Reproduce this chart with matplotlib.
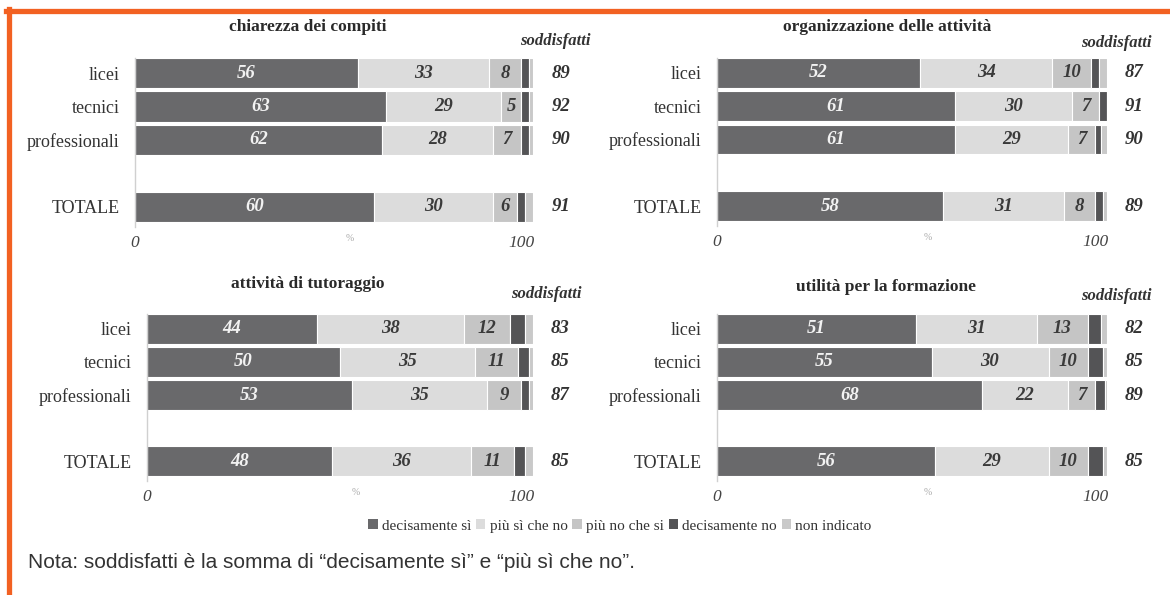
import matplotlib.pyplot as plt
from matplotlib.lines import Line2D
from matplotlib.patches import Patch

plt.rcParams['font.family'] = ['Liberation Serif', 'DejaVu Serif']

# dati
categorie = ['licei', 'tecnici', 'professionali', 'TOTALE']
posizioni = [0, 1, 2, 4]
risposte = ['decisamente sì', 'più sì che no', 'più no che si', 'decisamente no', 'non indicato']
colori = ['#69696b', '#dcdcdc', '#c5c5c5', '#545456', '#c9c9c9']

titoli = ['chiarezza dei compiti', 'organizzazione delle attività',
          'attività di tutoraggio', 'utilità per la formazione']

# per ogni pannello: [decisamente sì, più sì che no, più no che sì, decisamente no, non indicato]
chiarezza = [[56, 33, 8, 2, 1], [63, 29, 5, 2, 1], [62, 28, 7, 2, 1], [60, 30, 6, 2, 2]]
organizzazione = [[52, 34, 10, 2, 2], [61, 30, 7, 2, 1], [61, 29, 7, 1.5, 2], [58, 31, 8, 2, 1]]
tutoraggio = [[44, 38, 12, 4, 2], [50, 35, 11, 3, 1], [53, 35, 9, 2, 1.5], [48, 36, 11, 3, 2]]
utilita = [[51, 31, 13, 3.5, 1.5], [55, 30, 10, 4, 1], [68, 22, 7, 2.5, 1.5], [56, 29, 10, 4, 1]]

soddisfatti_chiarezza = [89, 92, 90, 91]
soddisfatti_organizzazione = [87, 91, 90, 89]
soddisfatti_tutoraggio = [83, 85, 87, 85]
soddisfatti_utilita = [82, 85, 89, 85]

dati = [chiarezza, organizzazione, tutoraggio, utilita]
soddisfatti = [soddisfatti_chiarezza, soddisfatti_organizzazione,
               soddisfatti_tutoraggio, soddisfatti_utilita]

W, H = 1170, 595
fig = plt.figure(figsize=(W / 100, H / 100), dpi=100)
fig.patch.set_facecolor('white')

def fx(x):
    return x / W

def fy(y):
    return 1 - y / H

# riquadri in pixel: x0, x100, y alto barre, y basso barre
riquadri = [(135, 533, 58, 227), (717, 1107, 58, 226),
            (147, 533, 314, 481), (717, 1107, 314, 481)]
pos_titolo = [(308, 27), (887, 27), (308, 284), (886, 287)]
pos_sodd = [(555, 41), (1116, 43), (546, 294), (1116, 296)]

for k in range(4):
    x0, x1, yt, yb = riquadri[k]
    ax = fig.add_axes([fx(x0), fy(yb), (x1 - x0) / W, (yb - yt) / H])
    ax.set_facecolor('none')
    valori = dati[k]
    left = [0] * 4
    for j in range(5):
        seg = [riga[j] for riga in valori]
        ax.barh(posizioni, seg, left=left, height=0.9, color=colori[j],
                edgecolor='white', linewidth=0.8)
        if j < 3:
            for i in range(4):
                c = '#f2f2f2' if j == 0 else '#3a3a3a'
                ax.text(left[i] + seg[i] / 2, posizioni[i], str(seg[i]),
                        ha='center', va='center', fontsize=13.5,
                        fontweight='bold', fontstyle='italic', color=c)
        left = [left[i] + seg[i] for i in range(4)]
    for i in range(4):
        ax.text(107, posizioni[i], str(soddisfatti[k][i]), ha='center', va='center',
                fontsize=13.5, fontweight='bold', fontstyle='italic',
                color='#333333', clip_on=False)
    ax.set_xlim(0, 100)
    ax.set_ylim(4.6, -0.45)
    ax.set_yticks(posizioni)
    ax.set_yticklabels(categorie, fontsize=13, color='#333333')
    ax.tick_params(axis='y', length=0, pad=11)
    ax.set_xticks([0, 97])
    ax.set_xticklabels(['0', '100'], fontsize=12.5, fontstyle='italic', color='#444444')
    ax.tick_params(axis='x', length=0, pad=6)
    ax.text(54, 4.95, '%', ha='center', va='center', fontsize=7, color='#aaaaaa',
            clip_on=False)
    for s in ['top', 'right', 'bottom']:
        ax.spines[s].set_visible(False)
    ax.spines['left'].set_color('#d0d0d0')
    ax.spines['left'].set_linewidth(1)
    fig.text(fx(pos_titolo[k][0]), fy(pos_titolo[k][1]), titoli[k], ha='center',
             va='center', fontsize=12.5, fontweight='bold', color='#2a2a2a')
    fig.text(fx(pos_sodd[k][0]), fy(pos_sodd[k][1]), 'soddisfatti', ha='center',
             va='center', fontsize=12, fontweight='bold', fontstyle='italic',
             color='#333333')

# legenda
maniglie = [Patch(facecolor=colori[j], edgecolor='none') for j in range(5)]
fig.legend(maniglie, risposte, loc='center', bbox_to_anchor=(fx(620), fy(526)),
           ncol=5, frameon=False, fontsize=11, handlelength=0.6, handleheight=0.6,
           handletextpad=0.3, columnspacing=0.3, labelcolor='#333333')

# nota
fig.text(fx(28), fy(562), 'Nota: soddisfatti è la somma di “decisamente sì” e “più sì che no”.',
         ha='left', va='center', fontsize=15, family='Liberation Sans', color='#333333')

# bordo arancione
fig.add_artist(Line2D([fx(6), 1], [fy(10.5), fy(10.5)], color='#f26122', lw=3.8))
fig.add_artist(Line2D([fx(8.5), fx(8.5)], [fy(8.6), 0], color='#f26122', lw=3.8))

plt.savefig('out.png', dpi=100)
